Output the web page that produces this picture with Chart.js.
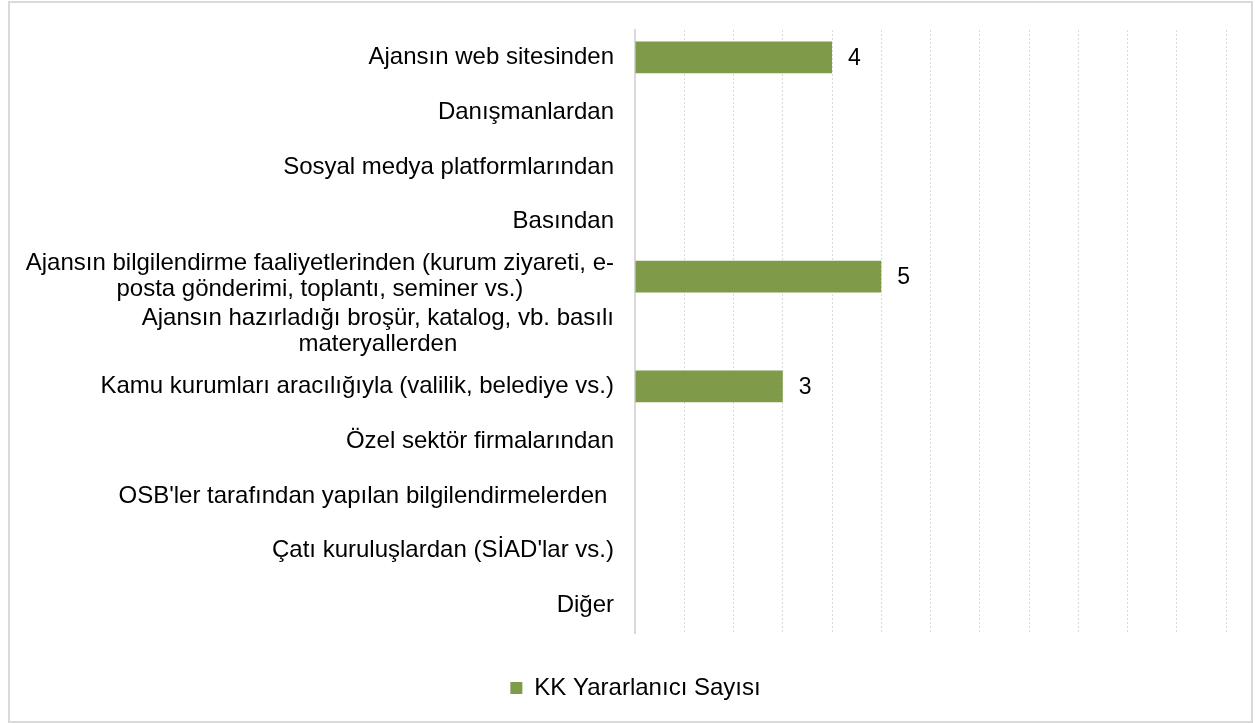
<!DOCTYPE html>
<html>
<head>
<meta charset="utf-8">
<script src="https://cdn.jsdelivr.net/npm/chart.js@4/dist/chart.umd.min.js"></script>
<style>
    html, body { margin: 0; padding: 0; background: #fff; }
    #frame { position: absolute; left: 8px; top: 1px; width: 1245px; height: 722px; box-sizing: border-box; border: 2px solid #d9d9d9; }
    #wrap { position: absolute; left: 0; top: 0; width: 1255px; height: 723px; }
</style>
</head>
<body>
<div id="frame"></div>
<div id="wrap"><canvas id="chart"></canvas></div>
<script>
// ── Data ──
const categories = [
    'Ajansın web sitesinden',
    'Danışmanlardan',
    'Sosyal medya platformlarından',
    'Basından',
    ['Ajansın bilgilendirme faaliyetlerinden (kurum ziyareti, e-', 'posta gönderimi, toplantı, seminer vs.)'],
    ['Ajansın hazırladığı broşür, katalog, vb. basılı', 'materyallerden'],
    'Kamu kurumları aracılığıyla (valilik, belediye vs.)',
    'Özel sektör firmalarından',
    "OSB'ler tarafından yapılan bilgilendirmelerden ",
    "Çatı kuruluşlardan (SİAD'lar vs.)",
    'Diğer'
];
const values = [4, 0, 0, 0, 5, 0, 3, 0, 0, 0, 0];
const seriesName = 'KK Yararlanıcı Sayısı';
const xMax = 12;

const FONT = '"Liberation Sans", Arial, sans-serif';
const LABEL_SIZE = 24;
const LINE_H = 26;

// ── Category labels: block right-aligned, lines centred on each other ──
const yLabels = {
    id: 'yLabels',
    afterDraw(chart) {
        const ctx = chart.ctx, ys = chart.scales.y;
        const right = chart.chartArea.left - 21;
        ctx.save();
        ctx.font = `${LABEL_SIZE}px ${FONT}`;
        ctx.fillStyle = '#000';
        ctx.textAlign = 'center';
        ctx.textBaseline = 'middle';
        categories.forEach((lab, i) => {
            const lines = Array.isArray(lab) ? lab : [lab];
            const w = Math.max(...lines.map(l => ctx.measureText(l).width));
            const cx = right - w / 2;
            const y = ys.getPixelForValue(i);
            lines.forEach((l, j) => ctx.fillText(l, cx, y + (j - (lines.length - 1) / 2) * LINE_H));
        });
        ctx.restore();
    }
};

// ── Value labels at bar ends ──
const valueLabels = {
    id: 'valueLabels',
    afterDatasetsDraw(chart) {
        const ctx = chart.ctx;
        const meta = chart.getDatasetMeta(0);
        ctx.save();
        ctx.font = `23px ${FONT}`;
        ctx.fillStyle = '#000';
        ctx.textAlign = 'left';
        ctx.textBaseline = 'middle';
        meta.data.forEach((bar, i) => {
            if (!values[i]) return;
            ctx.fillText(String(values[i]), bar.x + 16, bar.y + 1);
        });
        ctx.restore();
    }
};

new Chart(document.getElementById('chart'), {
    type: 'bar',
    data: {
        labels: categories,
        datasets: [{
            label: seriesName,
            data: values,
            backgroundColor: '#7f9a48',
            borderWidth: 0,
            categoryPercentage: 1,
            barPercentage: 0.577
        }]
    },
    options: {
        indexAxis: 'y',
        responsive: true,
        maintainAspectRatio: false,
        animation: false,
        layout: { padding: { top: 30, left: 45, right: 29, bottom: 13 } },
        plugins: {
            tooltip: { enabled: false },
            legend: {
                position: 'bottom',
                labels: {
                    color: '#000',
                    font: { family: FONT, size: 24 },
                    boxWidth: 12,
                    boxHeight: 12,
                    padding: 43
                }
            }
        },
        scales: {
            x: {
                min: 0, max: xMax,
                ticks: { stepSize: 1, display: false },
                grid: { color: '#d9d9d9', lineWidth: 1, drawTicks: false },
                border: { display: false, dash: [2, 2] }
            },
            y: {
                ticks: { display: false },
                grid: { display: false },
                border: { display: true, color: '#d9d9d9', width: 2 },
                afterFit(s) { s.width = 590; }
            }
        }
    },
    plugins: [yLabels, valueLabels]
});
</script>
</body>
</html>
